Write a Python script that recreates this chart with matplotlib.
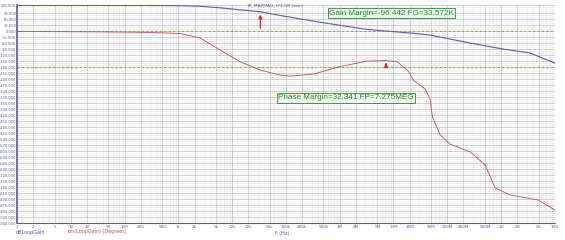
import matplotlib
matplotlib.use('Agg')
import matplotlib.pyplot as plt
from matplotlib.ticker import FixedLocator, MultipleLocator

# loop gain magnitude (dB)
freq_gain = [1, 100, 1000, 2553, 6000, 14000, 33572, 78000, 434000, 3.24e6, 7.275e6,
             23.5e6, 48e6, 268e6, 1.1e9, 3.5e9, 1e10]
gain_db = [128, 128, 127, 124, 116, 106, 96.442, 78, 44, 8, 0,
           -11, -20, -60, -90, -110, -160]

# loop gain phase (degrees)
freq_ph = [1, 35, 300, 1084, 2553, 6000, 14000, 33572, 78000, 120000, 324000, 1e6,
           3.24e6, 7.275e6, 11.7e6, 18.8e6, 23.5e6, 39e6, 48e6, 53e6, 74e6, 113e6,
           267e6, 507e6, 777e6, 1.48e9, 4.9e9, 1e10]
phase_deg = [-2, -4, -7, -12, -35, -95, -153, -195, -220, -225, -215, -178,
             -150, -147.659, -153, -200, -245, -290, -340, -430, -519, -565,
             -604, -669, -784, -819, -844, -894]

fg = 33572
gm = -96.442
fp = 7.275e6
pm = 32.341

x_ticks = [1, 2, 5, 10, 20, 50, 100, 200, 500, 1e3, 2e3, 5e3, 1e4, 2e4, 5e4, 1e5, 2e5, 5e5,
           1e6, 2e6, 5e6, 1e7, 2e7, 5e7, 1e8, 2e8, 5e8, 1e9, 2e9, 5e9, 1e10]
x_labels = ['1', '2', '5', '10', '20', '50', '100', '200', '500', '1k', '2k', '5k', '10k',
            '20k', '50k', '100k', '200k', '500k', '1M', '2M', '5M', '10M', '20M', '50M',
            '100M', '200M', '500M', '1G', '2G', '5G', '10G']
y_ticks = [130] + list(range(90, -961, -30))

blue = '#5a5aa8'
red = '#c05050'
green = '#2a8a2a'

fig = plt.figure(figsize=(5.65, 2.4), dpi=100)
ax = fig.add_axes([0.030, 0.070, 0.952, 0.909])

ax.set_xscale('log')
ax.set_xlim(1, 1e10)
ax.set_ylim(-960, 130)

ax.xaxis.set_major_locator(FixedLocator(x_ticks))
ax.set_xticklabels(x_labels)
ax.set_xticks([m * 10.0 ** d for d in range(10) for m in [3, 4, 6, 7, 8, 9]], minor=True)
ax.set_yticks(y_ticks)
ax.set_yticklabels(['%.3f' % v for v in y_ticks])
ax.yaxis.set_minor_locator(MultipleLocator(10))

ax.grid(True, which='major', color='#c8c8c8', lw=0.6)
ax.grid(True, which='minor', color='#e6e6e6', lw=0.4)
for d in range(11):
    ax.axvline(10.0 ** d, color='#b4b4b4', lw=0.7, zorder=0)

ax.tick_params(axis='y', which='both', length=0, labelsize=2.6, labelcolor=blue, pad=0.5)
ax.tick_params(axis='x', which='both', length=0, labelsize=3.0, labelcolor=blue, pad=1.5)
for s in ['top', 'right']:
    ax.spines[s].set_visible(False)
ax.spines['left'].set_color(blue)
ax.spines['bottom'].set_color(blue)
ax.spines['left'].set_linewidth(1.2)
ax.spines['bottom'].set_linewidth(0.8)

# reference lines
ax.axhline(0, color='#a8a040', ls=(0, (2, 2)), lw=0.8, zorder=2)
ax.axhline(-180, color='#a8a040', ls=(0, (2, 2)), lw=0.8, zorder=2)

ax.plot(freq_gain, gain_db, color=blue, lw=0.8, zorder=3)
ax.plot(freq_ph, phase_deg, color=red, lw=0.6, zorder=3)

# margin arrows
ax.annotate('', xy=(fg, -gm), xytext=(fg, 0),
            arrowprops=dict(arrowstyle='-|>', color='#e02020', lw=0.9, mutation_scale=5), zorder=4)
ax.annotate('', xy=(fp, -180 + pm), xytext=(fp, -180),
            arrowprops=dict(arrowstyle='-|>', color='#e02020', lw=0.9, mutation_scale=5), zorder=4)

box = dict(boxstyle='square,pad=0.15', fc='#eef8ee', ec=green, lw=0.6)
ax.text(6.4e5, 90, 'Gain Margin=%.3f FG=%.3fK' % (gm, fg / 1000.0), color=green,
        fontsize=5.9, family='Liberation Sans', va='center', ha='left', bbox=box, zorder=5)
ax.text(7.2e4, -334, 'Phase Margin=%.3f FP=%.3fMEG' % (pm, fp / 1e6), color=green,
        fontsize=5.9, family='Liberation Sans', va='center', ha='left', bbox=box, zorder=5)

fig.text(0.486, 0.988, 'TR_MAPMAG_(Y1,OR Gain)', fontsize=3.2, color=blue, ha='center', va='top')
fig.text(0.500, 0.028, 'F (Hz)', fontsize=3.5, color=blue, ha='center', va='center')
fig.text(0.028, 0.033, 'dBLoopGain', fontsize=3.5, color=blue, ha='left', va='center')
fig.text(0.120, 0.037, 'ph(LoopGain) (Degrees)', fontsize=3.5, color=red, ha='left', va='center')

fig.savefig('out.png', dpi=100)
